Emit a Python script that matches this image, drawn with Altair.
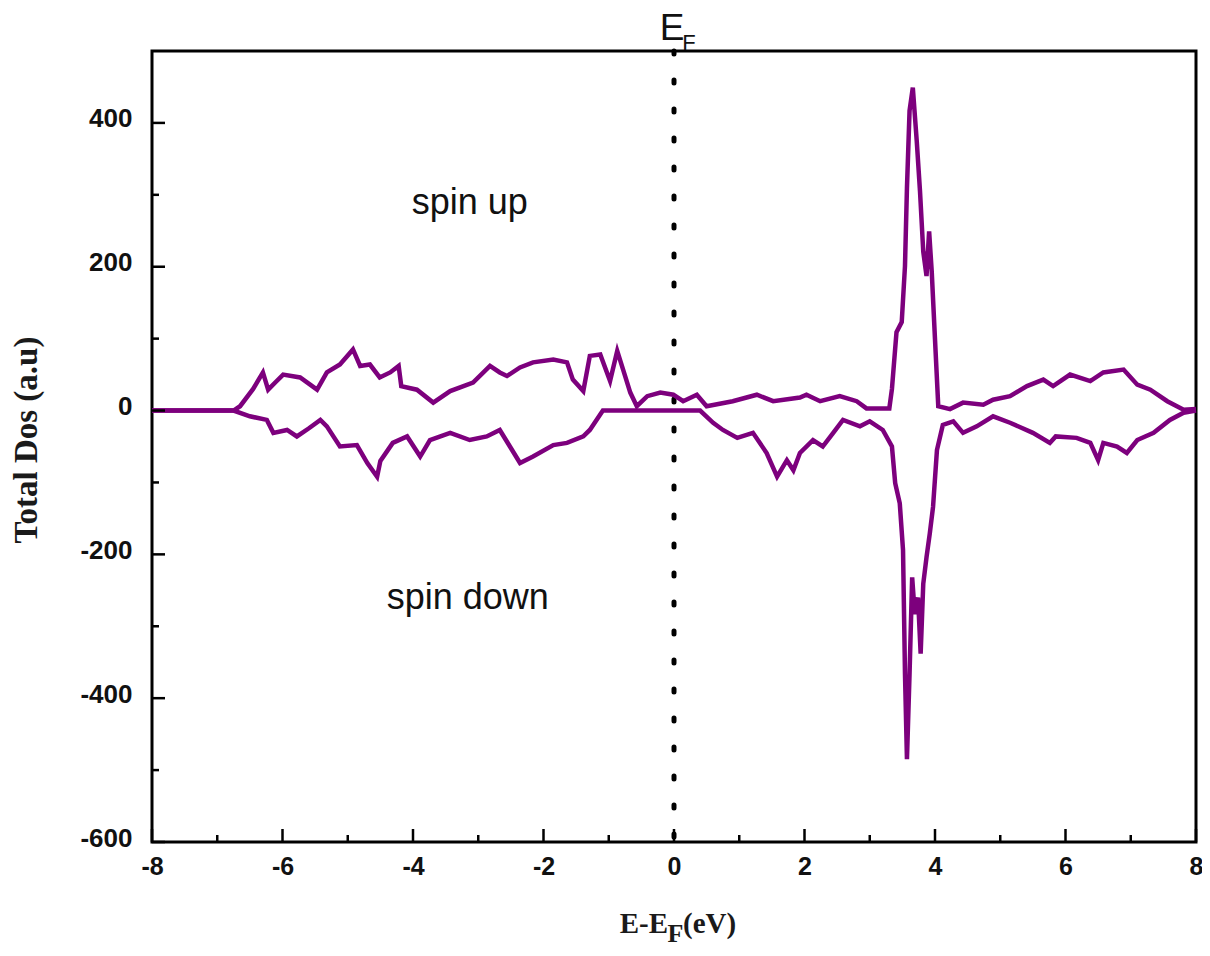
import altair as alt
import pandas as pd

# ---- data ----
up_x = [-8, -6.75, -6.65, -6.45, -6.3, -6.22, -6.1, -5.99, -5.73, -5.47, -5.32, -5.12, -4.92, -4.81,
        -4.66, -4.51, -4.35, -4.22, -4.18, -3.94, -3.69, -3.43, -3.08, -2.82, -2.67, -2.56, -2.36,
        -2.16, -1.85, -1.64, -1.55, -1.39, -1.29, -1.13, -0.98, -0.87, -0.78, -0.67, -0.57, -0.41,
        -0.21, -0.01, 0.14, 0.35, 0.5, 0.9, 1.27, 1.52, 1.93, 2.03, 2.24, 2.54, 2.8, 2.95, 3.3, 3.34,
        3.41, 3.49, 3.54, 3.57, 3.61, 3.66, 3.72, 3.77, 3.82, 3.87, 3.91, 3.95, 4.0, 4.05, 4.23, 4.43,
        4.74, 4.89, 5.15, 5.41, 5.66, 5.81, 6.07, 6.38, 6.58, 6.89, 7.1, 7.3, 7.56, 7.81, 8]
up_y = [0, 0, 6, 30, 53, 29, 40, 50, 46, 29, 53, 64, 85, 62, 64, 46, 53, 62, 34, 29, 11, 27, 39, 62,
        53, 48, 60, 67, 71, 67, 43, 27, 76, 78, 41, 83, 57, 25, 6, 20, 25, 22, 13, 22, 6, 13, 22, 13,
        18, 22, 13, 20, 13, 3, 3, 30, 109, 123, 201, 309, 417, 449, 375, 305, 221, 187, 249, 193, 99,
        6, 2, 11, 8, 15, 20, 34, 43, 34, 50, 41, 53, 57, 36, 29, 13, 1, 2]

dn_x = [-8, -6.75, -6.5, -6.24, -6.14, -5.93, -5.78, -5.6, -5.42, -5.32, -5.12, -4.86, -4.7, -4.55,
        -4.5, -4.31, -4.09, -3.89, -3.74, -3.43, -3.13, -2.87, -2.67, -2.36, -2.16, -1.85, -1.64,
        -1.39, -1.29, -1.09, 0.4, 0.6, 0.75, 0.97, 1.21, 1.42, 1.58, 1.73, 1.83, 1.93, 2.13, 2.28,
        2.44, 2.59, 2.85, 3.0, 3.2, 3.34, 3.39, 3.46, 3.51, 3.54, 3.57, 3.61, 3.65, 3.69, 3.74, 3.78,
        3.82, 3.87, 3.92, 3.97, 4.03, 4.12, 4.28, 4.43, 4.64, 4.89, 5.15, 5.5, 5.76, 5.85, 6.17,
        6.38, 6.5, 6.58, 6.79, 6.94, 7.1, 7.35, 7.6, 7.81, 8]
dn_y = [0, 0, -8, -13, -31, -27, -36, -25, -13, -22, -50, -48, -73, -92, -70, -45, -36, -64, -41,
        -31, -41, -36, -27, -73, -64, -48, -45, -36, -27, 0, 0, -17, -27, -38, -31, -59, -92, -69,
        -83, -59, -41, -50, -31, -13, -22, -15, -27, -50, -101, -129, -194, -366, -485, -366, -232,
        -283, -260, -338, -241, -204, -171, -134, -55, -20, -15, -31, -22, -8, -17, -31, -45, -36,
        -38, -45, -69, -45, -50, -59, -41, -31, -13, -3, 0]

x_major = [-8, -6, -4, -2, 0, 2, 4, 6, 8]
x_minor = [-7, -5, -3, -1, 1, 3, 5, 7]
y_major = [-600, -400, -200, 0, 200, 400]
y_minor = [-500, -300, -100, 100, 300]

labels_text = ["spin up", "spin down"]
labels_x = [-3.13, -3.16]
labels_y = [274, -276]

W, H = 1044, 791
PURPLE = "#7d007d"

df = pd.DataFrame({
    "E": up_x + dn_x,
    "DOS": up_y + dn_y,
    "spin": ["up"] * len(up_x) + ["down"] * len(dn_x),
})

xs = alt.Scale(domain=[-8, 8], nice=False, zero=False)
ys = alt.Scale(domain=[-600, 500], nice=False, zero=False)

xax = alt.Axis(values=x_major, ticks=False, domain=False, grid=False, title=None,
               labelExpr="toString(datum.value)",
               labelFont="Liberation Sans", labelFontSize=25,
               labelFontWeight="bold", labelColor="#111", labelPadding=12, labelFlush=False)
yax = alt.Axis(values=y_major, ticks=False, domain=False, grid=False, title=None,
               labelExpr="toString(datum.value)",
               labelFont="Liberation Sans", labelFontSize=26, labelFontWeight="bold",
               labelColor="#111", labelPadding=20, labelFlush=False, labelOffset=-4)

lines = alt.Chart(df).mark_line(color=PURPLE, strokeWidth=4.5, strokeJoin="miter").encode(
    x=alt.X("E:Q", scale=xs, axis=xax),
    y=alt.Y("DOS:Q", scale=ys, axis=yax),
    detail="spin:N",
    order=alt.Order("E:Q"),
)

ef = alt.Chart(pd.DataFrame({"v": [0]})).mark_rule(
    color="black", strokeWidth=5, strokeDash=[3, 26], strokeCap="round"
).encode(x=alt.X("v:Q", scale=xs))

def xticks(vals, length):
    return alt.Chart(pd.DataFrame({"v": vals})).mark_rule(color="black", strokeWidth=2.5).encode(
        x=alt.X("v:Q", scale=xs), y=alt.value(H), y2=alt.value(H - length))

def yticks(vals, length):
    return alt.Chart(pd.DataFrame({"v": vals})).mark_rule(color="black", strokeWidth=2.5).encode(
        y=alt.Y("v:Q", scale=ys), x=alt.value(0), x2=alt.value(length))

ann = alt.Chart(pd.DataFrame({"t": labels_text, "x": labels_x, "y": labels_y})).mark_text(
    font="Liberation Sans", fontSize=36, color="#111", align="center", baseline="alphabetic"
).encode(x=alt.X("x:Q", scale=xs), y=alt.Y("y:Q", scale=ys), text="t:N")

one = pd.DataFrame({"a": [0]})
e_big = alt.Chart(one).mark_text(text="E", font="Liberation Sans", fontSize=37, color="#111",
                                 align="center", baseline="alphabetic", dx=-2).encode(
    x=alt.X("a:Q", scale=xs), y=alt.value(-11))
e_sub = alt.Chart(one).mark_text(text="F", font="Liberation Sans", fontSize=22, color="#111",
                                 align="center", baseline="alphabetic", dx=15).encode(
    x=alt.X("a:Q", scale=xs), y=alt.value(-1))

serif = "Liberation Serif"
xt1 = alt.Chart(one).mark_text(text="E-E", font=serif, fontSize=29, fontWeight="bold",
                               color="#1a1a1a", align="right", baseline="alphabetic").encode(
    x=alt.value(516), y=alt.value(882))
xt2 = alt.Chart(one).mark_text(text="F", font=serif, fontSize=26, fontWeight="bold",
                               color="#1a1a1a", align="center", baseline="alphabetic").encode(
    x=alt.value(523.5), y=alt.value(891))
xt3 = alt.Chart(one).mark_text(text="(eV)", font=serif, fontSize=29, fontWeight="bold",
                               color="#1a1a1a", align="left", baseline="alphabetic").encode(
    x=alt.value(531), y=alt.value(882))
yt = alt.Chart(one).mark_text(text="Total Dos (a.u)", font=serif, fontSize=33, fontWeight="bold",
                              color="#1a1a1a", align="center", baseline="middle", angle=270).encode(
    x=alt.value(-125), y=alt.value(389))

chart = alt.layer(
    ef, lines,
    xticks(x_major, 13), xticks(x_minor, 7), yticks(y_major, 13), yticks(y_minor, 7),
    ann, e_big, e_sub, xt1, xt2, xt3, yt,
).properties(
    width=W, height=H,
    autosize=alt.AutoSizeParams(type="none"),
    padding={"left": 144, "top": 43, "right": 6, "bottom": 106},
    background="white",
).configure_view(stroke="black", strokeWidth=3)

chart.save("out.html", embed_options={"renderer": "svg", "actions": False})
